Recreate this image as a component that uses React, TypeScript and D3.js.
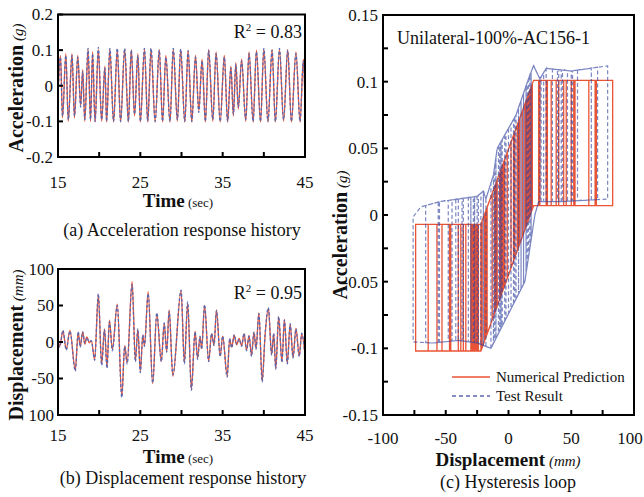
import React from 'react';
import * as d3 from 'd3';

const W = 644;
const H = 497;
const FONT = "'Liberation Serif','Times New Roman',serif";

// ---------- (a) acceleration history: extrema ----------
const accTime = [15.0,15.3,15.55,15.95,16.25,16.7,17.0,17.4,17.75,18.0,18.25,18.65,18.95,19.2,19.5,19.9,20.3,20.7,20.9,21.3,21.75,22.2,22.6,23.1,23.55,23.9,24.3,24.7,25.0,25.5,25.9,26.3,26.8,27.3,27.7,28.1,28.6,29.0,29.5,29.9,30.4,30.8,31.25,31.7,32.1,32.5,32.9,33.3,33.8,34.2,34.7,35.2,35.6,36.0,36.3,36.6,36.9,37.3,37.8,38.2,38.7,39.1,39.6,40.0,40.5,41.0,41.4,41.9,42.4,42.9,43.35,43.9,44.4,44.8,45.0];
const accTest = [-0.03,0.08,-0.085,0.085,-0.095,0.085,-0.085,0.08,-0.06,0.04,-0.095,0.105,-0.095,0.09,-0.1,0.108,-0.095,0.05,-0.1,0.105,-0.1,0.105,-0.1,0.105,-0.1,0.1,-0.08,0.085,-0.1,0.105,-0.1,0.105,-0.1,0.1,-0.1,0.08,-0.1,0.105,-0.095,0.103,-0.1,0.098,-0.1,0.08,-0.075,0.07,-0.1,0.1,-0.095,0.09,-0.1,0.08,-0.1,0.05,-0.08,0.06,-0.06,0.07,-0.095,0.09,-0.1,0.095,-0.1,0.105,-0.1,0.1,-0.1,0.105,-0.095,0.1,-0.1,0.09,-0.1,0.07,-0.04];
const accPred = [-0.02,0.085,-0.09,0.09,-0.1,0.09,-0.09,0.085,-0.055,0.045,-0.1,0.101,-0.1,0.095,-0.102,0.101,-0.1,0.055,-0.102,0.101,-0.102,0.101,-0.102,0.101,-0.102,0.101,-0.085,0.09,-0.102,0.101,-0.102,0.101,-0.102,0.101,-0.102,0.085,-0.102,0.101,-0.1,0.101,-0.102,0.1,-0.102,0.085,-0.07,0.075,-0.102,0.101,-0.1,0.095,-0.102,0.085,-0.102,0.055,-0.085,0.065,-0.065,0.075,-0.1,0.095,-0.102,0.1,-0.102,0.101,-0.102,0.101,-0.102,0.101,-0.1,0.101,-0.102,0.095,-0.102,0.075,-0.05];

// ---------- (b) displacement history: extrema ----------
const dispTime = [15.0,15.2,15.6,16.0,16.45,17.1,17.45,17.7,18.0,18.25,18.5,18.8,19.05,19.45,19.9,20.3,20.65,20.95,21.25,21.6,22.2,22.75,23.1,23.4,24.0,24.4,24.7,25.0,25.3,25.5,25.95,26.5,27.0,27.55,27.9,28.2,28.5,28.95,29.95,30.35,30.75,31.2,31.65,31.95,32.25,32.45,32.8,33.3,33.65,33.95,34.25,34.7,35.0,35.55,35.85,36.1,36.4,36.7,37.0,37.3,37.6,37.9,38.2,38.5,38.8,39.05,39.4,39.8,40.15,40.55,40.95,41.2,41.45,41.8,42.2,42.5,42.85,43.2,43.55,43.9,44.3,44.6,45.0];
const dispTest = [3,-7,16,-11,15,-40,14,-7,14,-2,6,0,2,-25,66,-32,17,-36,28,-12,50,-76,-6,-30,79,-27,18,-42,10,-6,66,-56,40,-27,26,-14,42,-45,71,-30,55,-66,14,-24,8,-10,51,-27,12,-5,43,-20,8,-48,5,-8,10,-3,4,-6,12,-12,8,-20,14,-10,39,-55,10,47,-18,12,-37,35,-28,30,-30,25,-22,18,-20,12,-18];
const dispPred = [4,-6,15,-10,16,-38,13,-6,14,-3,7,-1,2,-24,64,-30,18,-34,30,-10,52,-74,-5,-28,83,-25,17,-40,9,-5,69,-57,38,-26,25,-13,44,-47,70,-28,53,-64,15,-22,7,-9,50,-26,11,-4,44,-19,8,-46,4,-7,9,-4,5,-5,11,-11,9,-18,13,-9,40,-53,9,46,-17,11,-36,34,-27,31,-29,24,-21,19,-19,11,-17];

// ---------- (c) hysteresis branch envelopes ----------
const predUpperX = [-22, 20];
const predUpperY = [-0.007, 0.101];
const predLowerX = [-22, 20];
const predLowerY = [-0.102, 0.007];
const testUpperX = [-78, -70, -55, -40, -25, -20, -18, -12, -9, 6, 17, 20, 25, 30, 50, 80];
const testUpperY = [-0.004, 0.006, 0.01, 0.012, 0.014, 0.018, 0.012, 0.03, 0.05, 0.075, 0.105, 0.112, 0.102, 0.11, 0.108, 0.112];
const testLowerX = [-80, -60, -40, -25, -14, 13, 21, 24, 40, 80];
const testLowerY = [-0.095, -0.096, -0.094, -0.096, -0.1, -0.05, 0.0, 0.01, 0.01, 0.012];

// ---------- ticks ----------
const timeTicks = [15, 20, 25, 30, 35, 40, 45];
const timeTickLabels = ['15', '', '25', '', '35', '', '45'];
const accTicks = [-0.2, -0.1, 0, 0.1, 0.2];
const accTickLabels = ['-0.2', '-0.1', '0', '0.1', '0.2'];
const dispTicks = [-100, -50, 0, 50, 100];
const dispTickLabels = ['100', '-50', '0', '50', '100'];
const hxTicks = [-100, -75, -50, -25, 0, 25, 50, 75, 100];
const hxTickLabels = ['-100', '', '-50', '', '0', '', '50', '', '100'];
const hyTicks = [-0.15, -0.125, -0.1, -0.075, -0.05, -0.025, 0, 0.025, 0.05, 0.075, 0.1, 0.125, 0.15];
const hyTickLabels = ['-0.15', '', '-0.1', '', '-0.05', '', '0', '', '0.05', '', '0.1', '', '0.15'];

const RED = '#ea5436';
const BLUE = '#5d67ae';
const HBLUE = '#33439f';

const xA = d3.scaleLinear().domain([15, 45]).range([58, 305]);
const yA = d3.scaleLinear().domain([-0.2, 0.2]).range([157, 14.5]);
const xB = d3.scaleLinear().domain([15, 45]).range([58, 305]);
const yB = d3.scaleLinear().domain([-100, 100]).range([415, 269]);
const xC = d3.scaleLinear().domain([-100, 100]).range([383, 634]);
const yC = d3.scaleLinear().domain([-0.15, 0.15]).range([415, 15]);

function loopPoints(rev: number[], upX: number[], upY: number[], loX: number[], loY: number[]) {
  const up = d3.scaleLinear().domain(upX).range(upY).clamp(true);
  const lo = d3.scaleLinear().domain(loX).range(loY).clamp(true);
  const pts: [number, number][] = [];
  for (let i = 0; i < rev.length; i++) {
    const d = rev[i];
    if (i > 0) {
      const prev = rev[i - 1];
      const goingUp = d > prev;
      const bx = goingUp ? upX : loX;
      const f = goingUp ? up : lo;
      const mid = bx.filter((x) => x > Math.min(prev, d) && x < Math.max(prev, d)).slice().sort((a, b) => (goingUp ? a - b : b - a));
      mid.forEach((x) => pts.push([x, f(x)]));
      pts.push([d, f(d)]);
    }
    if (i + 1 < rev.length) {
      const f = rev[i + 1] > d ? up : lo;
      pts.push([d, f(d)]);
    }
  }
  return pts;
}

const sAx = { fontFamily: FONT, fill: '#111' } as const;

function Frame({ x0, x1, y0, y1 }: { x0: number; x1: number; y0: number; y1: number }) {
  return <rect x={x0} y={y0} width={x1 - x0} height={y1 - y0} fill="none" stroke="#000" strokeWidth={2} />;
}

function XTicks({ scale, ticks, labels, y, labelY }: any) {
  return (
    <g>
      {ticks.map((t: number, i: number) => (
        <g key={i}>
          <line x1={scale(t)} x2={scale(t)} y1={y} y2={y - 5} stroke="#000" strokeWidth={2} />
          {labels[i] && (
            <text x={Math.min(scale(t), 630)} y={labelY} textAnchor="middle" fontSize={17} style={sAx}>{labels[i]}</text>
          )}
        </g>
      ))}
    </g>
  );
}

function YTicks({ scale, ticks, labels, x, labelX }: any) {
  return (
    <g>
      {ticks.map((t: number, i: number) => (
        <g key={i}>
          <line x1={x} x2={x + 5} y1={scale(t)} y2={scale(t)} stroke="#000" strokeWidth={2} />
          {labels[i] && (
            <text x={labelX} y={scale(t)} dy="0.35em" textAnchor="end" fontSize={17} style={sAx}>{labels[i]}</text>
          )}
        </g>
      ))}
    </g>
  );
}

export default function App() {
  const lineA = d3.line<number>().x((_, i) => xA(accTime[i])).y((v) => yA(v)).curve(d3.curveMonotoneX);
  const lineB = d3.line<number>().x((_, i) => xB(dispTime[i])).y((v) => yB(v)).curve(d3.curveMonotoneX);
  const lineC = d3.line<[number, number]>().x((d) => xC(d[0])).y((d) => yC(d[1]));

  const predLoop = loopPoints(dispPred, predUpperX, predUpperY, predLowerX, predLowerY);
  const testLoop = loopPoints(dispTest, testUpperX, testUpperY, testLowerX, testLowerY);

  return (
    <svg width={W} height={H} style={{ position: 'absolute', left: 0, top: 0, background: '#fff' }} fontFamily={FONT}>
      <defs>
        <clipPath id="cA"><rect x={58} y={14.5} width={247} height={142.5} /></clipPath>
        <clipPath id="cB"><rect x={58} y={269} width={247} height={146} /></clipPath>
        <clipPath id="cC"><rect x={383} y={15} width={251} height={400} /></clipPath>
      </defs>
      <rect x={0} y={0} width={W} height={H} fill="#fff" />

      {/* ---------- panel (a) ---------- */}
      <g clipPath="url(#cA)">
        <path d={lineA(accPred) || ''} fill="none" stroke={RED} strokeWidth={1.3} />
        <path d={lineA(accTest) || ''} fill="none" stroke={BLUE} strokeWidth={1.3} strokeDasharray="3 2" />
      </g>
      <Frame x0={58} x1={305} y0={14.5} y1={157} />
      <XTicks scale={xA} ticks={timeTicks} labels={timeTickLabels} y={157} labelY={188} />
      <YTicks scale={yA} ticks={accTicks} labels={accTickLabels} x={58} labelX={53} />
      <text x={302} y={38} textAnchor="end" fontSize={18} style={sAx}>R<tspan dy={-7} fontSize={11}>2</tspan><tspan dy={7}> = 0.83</tspan></text>
      <text x={178} y={207} textAnchor="middle" style={sAx}>
        <tspan fontWeight="bold" fontSize={19}>Time</tspan><tspan fontSize={13}> (sec)</tspan>
      </text>
      <text x={182} y={236} textAnchor="middle" fontSize={18} style={sAx}>(a)  Acceleration response history</text>
      <text transform="translate(17,88) rotate(-90)" textAnchor="middle" dy="0.35em" style={sAx}>
        <tspan fontWeight="bold" fontSize={20}>Acceleration</tspan><tspan fontSize={15} fontStyle="italic"> (g)</tspan>
      </text>

      {/* ---------- panel (b) ---------- */}
      <g clipPath="url(#cB)">
        <path d={lineB(dispPred) || ''} fill="none" stroke={RED} strokeWidth={1.3} />
        <path d={lineB(dispTest) || ''} fill="none" stroke={BLUE} strokeWidth={1.3} strokeDasharray="3 2" />
      </g>
      <Frame x0={58} x1={305} y0={269} y1={415} />
      <XTicks scale={xB} ticks={timeTicks} labels={timeTickLabels} y={415} labelY={441} />
      <YTicks scale={yB} ticks={dispTicks} labels={dispTickLabels} x={58} labelX={54} />
      <text x={302} y={299} textAnchor="end" fontSize={18} style={sAx}>R<tspan dy={-7} fontSize={11}>2</tspan><tspan dy={7}> = 0.95</tspan></text>
      <text x={178} y={463} textAnchor="middle" style={sAx}>
        <tspan fontWeight="bold" fontSize={19}>Time</tspan><tspan fontSize={13}> (sec)</tspan>
      </text>
      <text x={183} y={484} textAnchor="middle" fontSize={18} style={sAx}>(b)  Displacement response history</text>
      <text transform="translate(17,345) rotate(-90)" textAnchor="middle" dy="0.35em" style={sAx}>
        <tspan fontWeight="bold" fontSize={20}>Displacement</tspan><tspan fontSize={15} fontStyle="italic"> (mm)</tspan>
      </text>

      {/* ---------- panel (c) ---------- */}
      <g clipPath="url(#cC)">
        <path d={lineC(predLoop) || ''} fill="none" stroke={RED} strokeWidth={1.3} />
        <path d={lineC(testLoop) || ''} fill="none" stroke={HBLUE} strokeWidth={1.2} strokeOpacity={0.65} strokeDasharray="4 2.5" />
      </g>
      <Frame x0={383} x1={634} y0={15} y1={415} />
      <XTicks scale={xC} ticks={hxTicks} labels={hxTickLabels} y={415} labelY={444} />
      <YTicks scale={yC} ticks={hyTicks} labels={hyTickLabels} x={383} labelX={378} />
      <text x={397} y={44} fontSize={18} style={sAx}>Unilateral-100%-AC156-1</text>
      <line x1={452} x2={490} y1={377} y2={377} stroke={RED} strokeWidth={1.3} />
      <text x={496} y={377} dy="0.35em" fontSize={15} style={sAx}>Numerical Prediction</text>
      <line x1={452} x2={490} y1={396} y2={396} stroke={BLUE} strokeWidth={1.5} strokeDasharray="4 3" />
      <text x={496} y={396} dy="0.35em" fontSize={15} style={sAx}>Test Result</text>
      <text x={508} y={466} textAnchor="middle" style={sAx}>
        <tspan fontWeight="bold" fontSize={19}>Displacement</tspan><tspan fontSize={15} fontStyle="italic"> (mm)</tspan>
      </text>
      <text x={508} y={488} textAnchor="middle" fontSize={18} style={sAx}>(c)  Hysteresis loop</text>
      <text transform="translate(341,235) rotate(-90)" textAnchor="middle" dy="0.35em" style={sAx}>
        <tspan fontWeight="bold" fontSize={20}>Acceleration</tspan><tspan fontSize={15} fontStyle="italic"> (g)</tspan>
      </text>
    </svg>
  );
}
